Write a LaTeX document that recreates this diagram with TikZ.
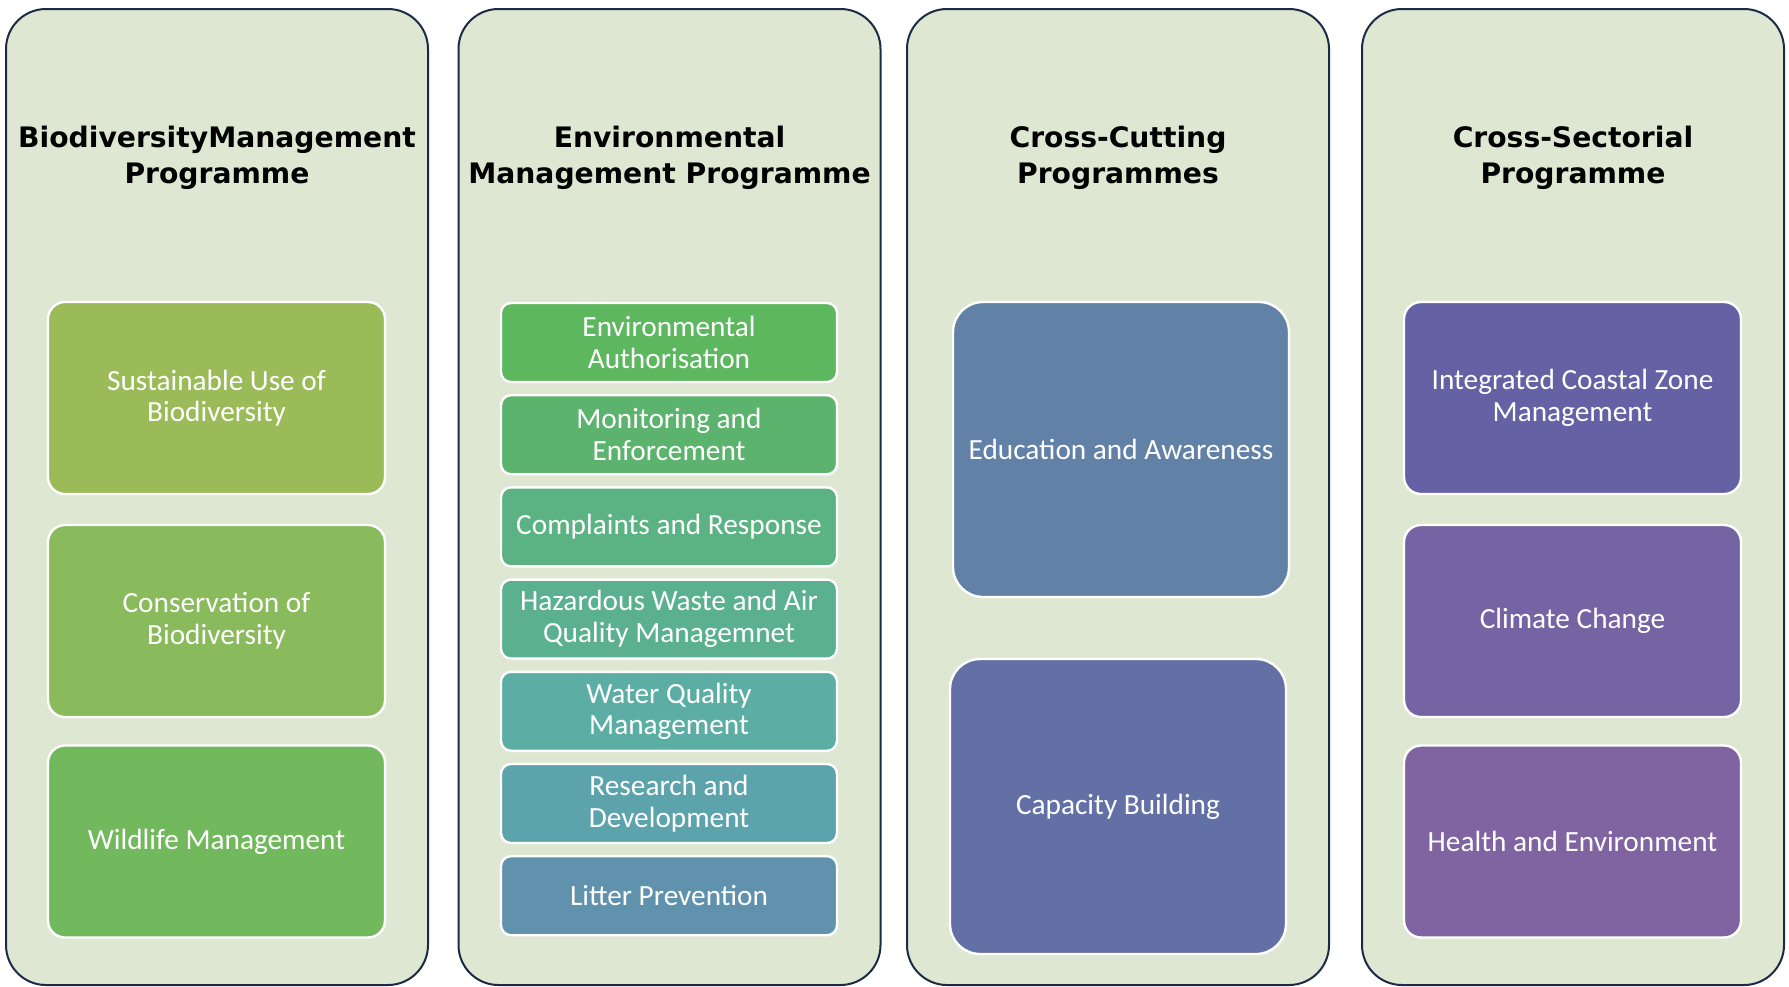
\documentclass[tikz,border=0pt]{standalone}
\usepackage{fontspec}
\newfontfamily\headfont{DejaVu Sans}
\newfontfamily\boxfont{Carlito}
\definecolor{panelfill}{HTML}{DEE7D2}
\definecolor{panelline}{HTML}{1B2B45}
% biodiversity
\definecolor{bioA}{HTML}{9BBB59}
\definecolor{bioB}{HTML}{89BA5B}
\definecolor{bioC}{HTML}{72B85C}
% environmental
\definecolor{envA}{HTML}{5DB75E}
\definecolor{envB}{HTML}{5CB36E}
\definecolor{envC}{HTML}{5BB282}
\definecolor{envD}{HTML}{5BB08F}
\definecolor{envE}{HTML}{5CAEA4}
\definecolor{envF}{HTML}{5DA3AC}
\definecolor{envG}{HTML}{6192AD}
% cross-cutting
\definecolor{cutA}{HTML}{6281A7}
\definecolor{cutB}{HTML}{6370A6}
% cross-sectorial
\definecolor{secA}{HTML}{6461A4}
\definecolor{secB}{HTML}{7464A4}
\definecolor{secC}{HTML}{8064A1}
\begin{document}
\begin{tikzpicture}[x=0.5pt,y=-0.5pt,
    panelbox/.style={draw=panelline,line width=1pt,fill=panelfill,rounded corners=20pt,
      minimum width=211pt,minimum height=488pt,inner sep=0pt},
    headtext/.style={font=\headfont\bfseries\fontsize{14.1}{18.2}\selectfont,align=center,text=black},
    progbox/.style={draw=white,line width=1.2pt,text=white,align=center,inner sep=0pt,
      font=\boxfont\fontsize{14.65}{15.8}\selectfont},
    bigbox/.style={progbox,minimum width=168.5pt,minimum height=96pt,rounded corners=8.5pt},
    slimbox/.style={progbox,minimum width=168pt,minimum height=39.5pt,rounded corners=5pt},
    widebox/.style={progbox,minimum width=168pt,minimum height=147.5pt,rounded corners=15pt}]
  \useasboundingbox (0,0) rectangle (1789,986);
  % four programme panels
  \node[panelbox] (bio) at (217,497) {};
  \node[panelbox] (env) at (669.5,497) {};
  \node[panelbox] (cut) at (1118,497) {};
  \node[panelbox] (sec) at (1573,497) {};
  \node[headtext] (bioT) at (217,158) {BiodiversityManagement\\Programme};
  \node[headtext] (envT) at (669.5,158) {Environmental\\Management Programme};
  \node[headtext] (cutT) at (1118,158) {Cross-Cutting\\Programmes};
  \node[headtext] (secT) at (1573,158) {Cross-Sectorial\\Programme};
  % biodiversity
  \node[bigbox,fill=bioA] (bio1) at (216.5,398) {Sustainable Use of\\Biodiversity};
  \node[bigbox,fill=bioB] (bio2) at (216.5,621) {Conservation of\\Biodiversity};
  \node[bigbox,fill=bioC] (bio3) at (216.5,841.5) {Wildlife Management};
  % environmental
  \foreach \txt/\col [count=\i from 0] in {%
      {Environmental\\Authorisation}/envA,
      {Monitoring and\\Enforcement}/envB,
      {Complaints and Response}/envC,
      {Hazardous Waste and Air\\Quality Managemnet}/envD,
      {Water Quality\\Management}/envE,
      {Research and\\Development}/envF,
      {Litter Prevention}/envG} {
    \node[slimbox,fill=\col] (env\i) at (669,342.5+92.2*\i) {\txt};
  }
  % cross-cutting
  \node[widebox,fill=cutA] (cut1) at (1121,449.5) {Education and Awareness};
  \node[widebox,fill=cutB] (cut2) at (1118,806.5) {Capacity Building};
  % cross-sectorial
  \node[bigbox,fill=secA] (sec1) at (1572.5,398) {Integrated Coastal Zone\\Management};
  \node[bigbox,fill=secB] (sec2) at (1572.5,621) {Climate Change};
  \node[bigbox,fill=secC] (sec3) at (1572.5,841.5) {Health and Environment};
\end{tikzpicture}
\end{document}
